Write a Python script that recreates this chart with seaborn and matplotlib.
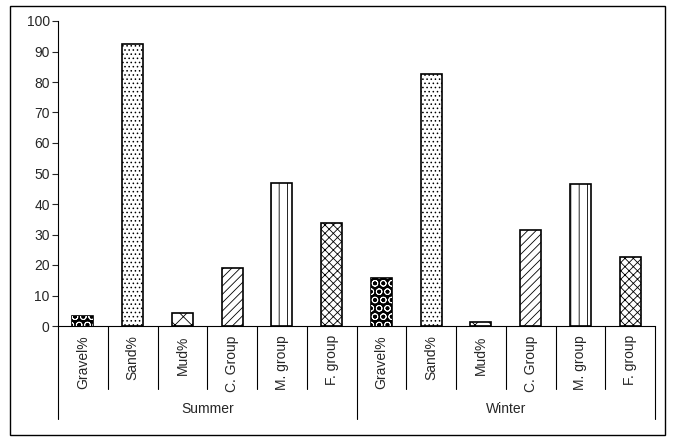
import pandas as pd
import matplotlib
matplotlib.use("Agg")
import matplotlib.pyplot as plt
import matplotlib.patches as mpatches
import matplotlib.transforms as mtransforms
import seaborn as sns

# valores
seasons = ["Summer", "Winter"]
categories = ["Gravel%", "Sand%", "Mud%", "C. Group", "M. group", "F. group"]
summer_values = [3.4, 92.4, 4.2, 18.9, 47.0, 33.9]
winter_values = [15.8, 82.5, 1.3, 31.4, 46.4, 22.7]
y_ticks = [0, 10, 20, 30, 40, 50, 60, 70, 80, 90, 100]

hatches = {"Gravel%": "", "Sand%": "....", "Mud%": "xx",
           "C. Group": "////", "M. group": "||", "F. group": "xxxx"}


def build_data():
    rows = []
    for season, vals in zip(seasons, [summer_values, winter_values]):
        for cat, v in zip(categories, vals):
            rows.append({"key": f"{season}|{cat}", "season": season,
                         "category": cat, "value": v})
    return pd.DataFrame(rows)


def main():
    sns.set_style("white")
    plt.rcParams["font.family"] = ["Liberation Sans", "DejaVu Sans"]
    plt.rcParams["hatch.linewidth"] = 0.6

    data = build_data()
    order = data["key"].tolist()
    fs = 10

    fig = plt.figure(figsize=(6.73, 4.37), dpi=100)
    ax = fig.add_axes([58 / 673, 111 / 437, 597 / 673, 305 / 437])

    sns.barplot(data=data, x="key", y="value", order=order, color="white",
                edgecolor="black", linewidth=1.2, width=0.42, saturation=1,
                errorbar=None, ax=ax)
    for patch, cat in zip(ax.patches, data["category"]):
        patch.set_facecolor("white")
        patch.set_hatch(hatches[cat])
        if cat == "Gravel%":
            patch.set_facecolor("black")

    # circulos blancos sobre las barras de grava
    gravel = data[data["category"] == "Gravel%"]
    n_before = len(ax.patches)
    sns.barplot(data=gravel, x="key", y="value", order=order, color="black",
                width=0.42, saturation=1, errorbar=None, ax=ax)
    for patch in ax.patches[n_before:]:
        patch.set_facecolor("none")
        patch.set_edgecolor("white")
        patch.set_linewidth(0)
        patch.set_hatch("OO")

    ax.set_xlim(-0.5, len(order) - 0.5)
    ax.set_ylim(0, 100)
    ax.set_yticks(y_ticks)
    ax.tick_params(axis="y", direction="out", length=4, width=0.8,
                   labelsize=fs, pad=2, left=True)
    ax.set_xticks([])
    ax.set_xlabel("")
    ax.set_ylabel("")
    sns.despine(ax=ax, top=True, right=True)
    for s in ["left", "bottom"]:
        ax.spines[s].set_color("black")
        ax.spines[s].set_linewidth(0.8)

    # etiquetas jerarquicas del eje x
    trans = mtransforms.blended_transform_factory(ax.transData, ax.transAxes)
    for i, cat in enumerate(data["category"]):
        ax.text(i, -0.03, cat, rotation=90, ha="center", va="top",
                fontsize=fs, transform=trans)
    for i in range(len(order) + 1):
        bottom = -0.305 if i % len(categories) == 0 else -0.207
        ax.plot([i - 0.5, i - 0.5], [0, bottom], color="black", lw=0.8,
                transform=trans, clip_on=False)
    for j, season in enumerate(seasons):
        center = j * len(categories) + (len(categories) - 1) / 2
        ax.text(center, -0.272, season, ha="center", va="center",
                fontsize=fs, transform=trans)

    # marco exterior
    fig.patches.append(mpatches.Rectangle((10 / 673, 2 / 437), 655 / 673,
                                          429 / 437, fill=False,
                                          edgecolor="black", lw=1.0,
                                          transform=fig.transFigure))

    fig.savefig("out.png", dpi=100)


if __name__ == "__main__":
    main()
